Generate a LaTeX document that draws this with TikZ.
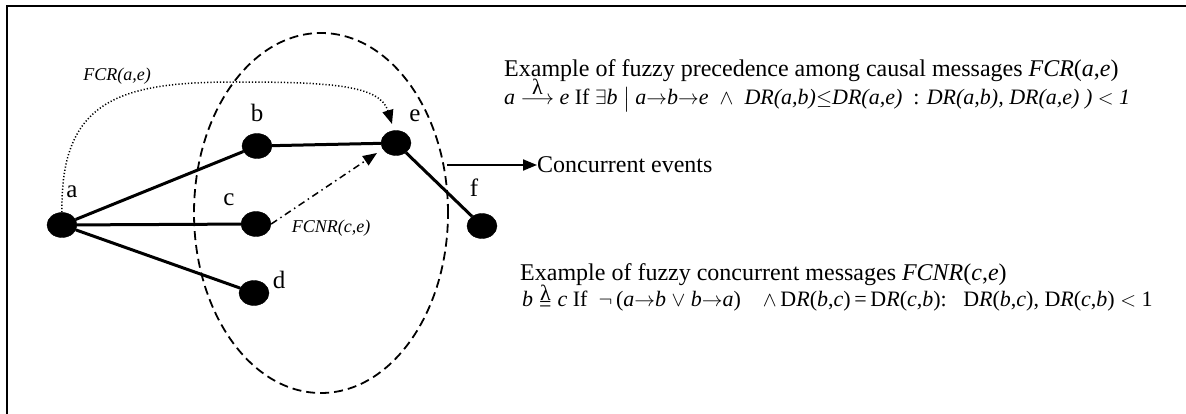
\documentclass[tikz,border=0pt]{standalone}
\usepackage{amsmath}
\usepackage{fontspec}
\setmainfont{Liberation Serif}
\usetikzlibrary{arrows.meta,shapes.geometric}
\newcommand\ii[1]{\textit{#1}}
\begin{document}
\begin{tikzpicture}[x=1pt,y=-1pt,
  ev/.style={ellipse,fill=black,draw=black,minimum width=30pt,minimum height=25pt,inner sep=0pt},
  lbl/.style={font=\fontsize{25}{27}\selectfont,inner sep=0pt},
  txt/.style={font=\fontsize{24}{26}\selectfont,inner sep=0pt,anchor=base west},
  mtxt/.style={font=\fontsize{22}{24}\selectfont,inner sep=0pt,anchor=base west},
  small/.style={font=\fontsize{18}{20}\selectfont\itshape,inner sep=0pt},
  edge/.style={line width=3pt},
  tip/.style={-{Triangle[length=14pt,width=11pt]}},
  circ/.style={line width=1.8pt,dash pattern=on 9pt off 5pt},
  dotl/.style={line width=1.5pt,dash pattern=on 1.2pt off 2pt},
  dashdot/.style={line width=1.5pt,dash pattern=on 7pt off 4pt on 1.5pt off 4pt}]
\useasboundingbox (0,0) rectangle (1186,414);
% frame
\draw[line width=2pt] (7,414) -- (7,6) -- (1186,6);
% dashed region
\draw[circ] (321,213) ellipse [x radius=127pt, y radius=180pt];
% events
\node[ev] (a) at (62,225) {};
\node[ev] (b) at (257,146) {};
\node[ev] (c) at (256,224) {};
\node[ev] (d) at (254,293) {};
\node[ev] (e) at (396,143) {};
\node[ev] (f) at (482,226) {};
% labels
\node[lbl] (la) at (72,192) {a};
\node[lbl] (lb) at (257,113) {b};
\node[lbl] (lc) at (229,200) {c};
\node[lbl] (ld) at (279,280) {d};
\node[lbl] (le) at (415,116) {e};
\node[lbl] (lf) at (474,188) {f};
% edges
\draw[edge] (a) -- (b);
\draw[edge] (a) -- (c);
\draw[edge] (a) -- (d);
\draw[edge] (b) -- (e);
\draw[edge] (e) -- (f);
% FCR(a,e)
\coordinate (ctop) at (235,82);
\draw[dotl,tip] (a.north) .. controls (60,100) and (120,82) .. (ctop)
   .. controls (330,82) and (380,85) .. (392,124);
\node[small] (lfcr) at (117,76) {FCR(a,e)};
% FCNR(c,e)
\draw[dashdot,tip] (c.east) -- (377,153);
\node[small] (lfcnr) at (331,228) {FCNR(c,e)};
% concurrent events
\coordinate (cs) at (447,165);
\node[txt,anchor=west] (ce) at (537,165) {Concurrent events};
\draw[line width=2pt,tip] (cs) -- (ce.west);
% top text
\node[txt] (t1) at (504,77) {Example of fuzzy precedence among causal messages \ii{FCR}(\ii{a},\ii{e})};
\node[mtxt] (t2) at (504,105) {\ii{a} \shortstack{\textup{λ}\\[0pt]$\longrightarrow$} \ii{e} If $\exists$\ii{b} $\big|$ \ii{a}$\rightarrow$\ii{b}$\rightarrow$\ii{e} \ $\wedge$ \ \ii{DR(a,b)}$\leq$\ii{DR(a,e)} \ : \ii{DR(a,b), DR(a,e) ) }$<$\ii{ 1}};
% bottom text
\node[txt] (t3) at (520,280) {Example of fuzzy concurrent messages \ii{FCNR}(\ii{c},\ii{e})};
\node[mtxt] (t4) at (522,306) {\ii{b}\hspace{6pt}\raisebox{-5pt}{\shortstack{\textup{λ}\\[-3pt]\textup{=}}}\hspace{6pt}\ii{c} If \ $\neg$\,(\ii{a}$\rightarrow$\ii{b} $\vee$ \ii{b}$\rightarrow$\ii{a}) \ \ \ $\wedge$\,D\ii{R}(\ii{b},\ii{c})\,=\,D\ii{R}(\ii{c},\ii{b}):\ \ \ D\ii{R}(\ii{b},\ii{c}),\ D\ii{R}(\ii{c},\ii{b})\ $<$\ 1};
\end{tikzpicture}
\end{document}
